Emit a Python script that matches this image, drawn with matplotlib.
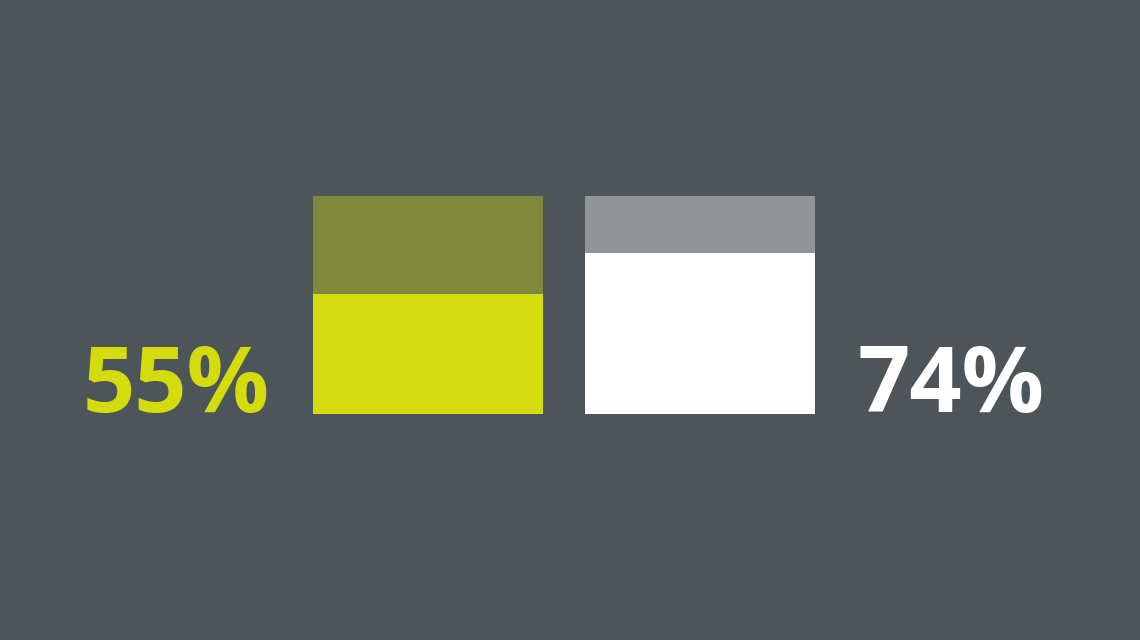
import matplotlib.pyplot as plt

# values
labels = ["55%", "74%"]
values = [55, 74]
totals = [100, 100]

fill_colors = ["#d4dc0e", "#ffffff"]
rest_colors = ["#80893b", "#919598"]
bg = "#4e5559"

fig = plt.figure(figsize=(11.4, 6.4), dpi=100, facecolor=bg)
ax = fig.add_axes([0, 0, 1, 1])
ax.set_facecolor(bg)
ax.set_xlim(0, 1140)
ax.set_ylim(-103.7, 189.9)
ax.axis("off")

xpos = [428, 700]
width = 230
for i in range(2):
    ax.bar(xpos[i], values[i], width=width, color=fill_colors[i], linewidth=0)
    ax.bar(xpos[i], totals[i] - values[i], bottom=values[i], width=width,
           color=rest_colors[i], linewidth=0)

# percentage labels beside the bars
ax.text(270, 0.8, labels[0], ha="right", va="baseline", fontsize=66,
        fontweight="bold", family="Open Sans", color=fill_colors[0])
ax.text(858, 0.8, labels[1], ha="left", va="baseline", fontsize=66,
        fontweight="bold", family="Open Sans", color=fill_colors[1])

fig.savefig("out.png", dpi=100, facecolor=bg)
